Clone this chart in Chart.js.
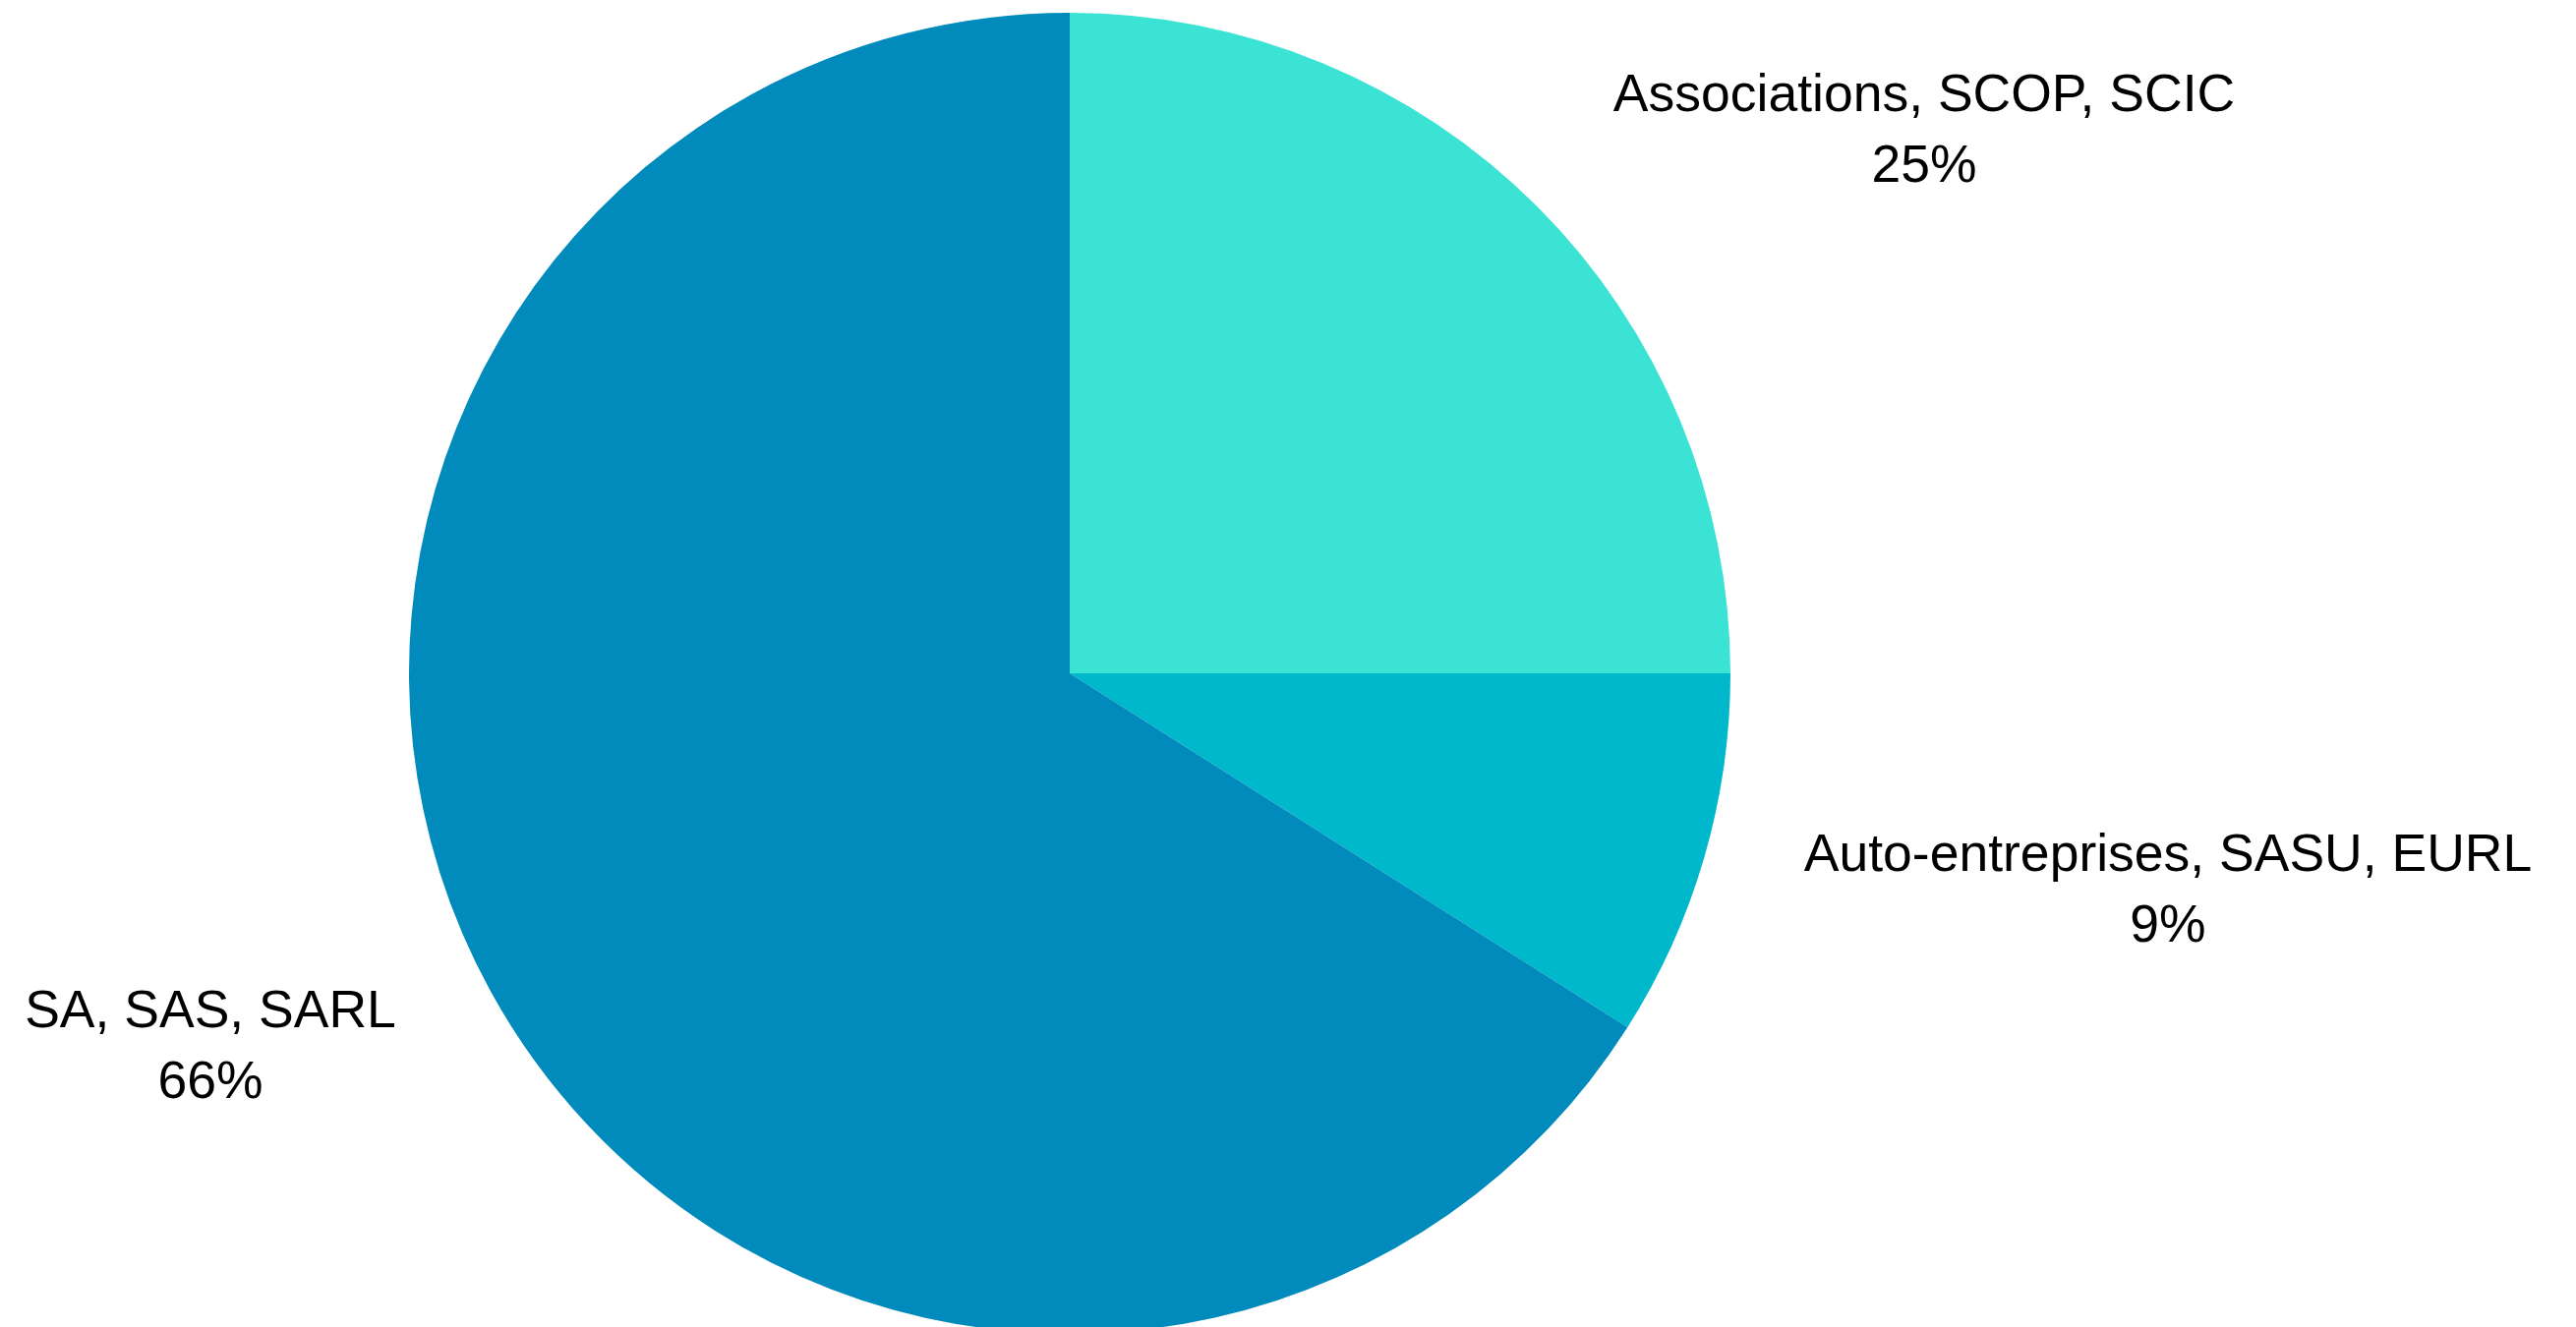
<!DOCTYPE html>
<html>
<head>
<meta charset="utf-8">
<script src="https://cdn.jsdelivr.net/npm/chart.js@4/dist/chart.umd.min.js"></script>
<style>
  html, body { margin: 0; padding: 0; background: #fff; overflow: hidden; }
  #wrap { width: 2620px; height: 1357px; position: relative; }
</style>
</head>
<body>
<div id="wrap"><canvas id="formesChart"></canvas></div>
<script>
// Données du graphique
const categories = ['Associations, SCOP, SCIC', 'Auto-entreprises, SASU, EURL', 'SA, SAS, SARL'];
const parts = [25, 9, 66];
const couleurs = ['#3BE3D4', '#00B8CC', '#008BBC'];

// Position des étiquettes par rapport au centre du camembert
const decalages = [[869, -572], [1117, 201], [-874, 360]];

// Plugin pour dessiner les étiquettes (nom + pourcentage)
const etiquettes = {
  id: 'etiquettes',
  afterDatasetsDraw(chart) {
    const ctx = chart.ctx;
    const arcs = chart.getDatasetMeta(0).data;
    ctx.save();
    ctx.font = '53.5px "Liberation Sans", Arial, sans-serif';
    ctx.fillStyle = '#000';
    ctx.textAlign = 'center';
    ctx.textBaseline = 'alphabetic';
    arcs.forEach((arc, i) => {
      const x = arc.x + decalages[i][0];
      const y = arc.y + decalages[i][1];
      ctx.fillText(categories[i], x, y);
      ctx.fillText(parts[i] + '%', x, y + 72);
    });
    ctx.restore();
  }
};

new Chart(document.getElementById('formesChart'), {
  type: 'pie',
  data: {
    labels: categories,
    datasets: [{
      data: parts,
      backgroundColor: couleurs,
      borderWidth: 0
    }]
  },
  options: {
    responsive: true,
    maintainAspectRatio: false,
    animation: false,
    layout: { padding: { top: 13, left: 0, right: 444, bottom: 0 } },
    plugins: {
      legend: { display: false },
      tooltip: { enabled: false }
    }
  },
  plugins: [etiquettes]
});
</script>
</body>
</html>
